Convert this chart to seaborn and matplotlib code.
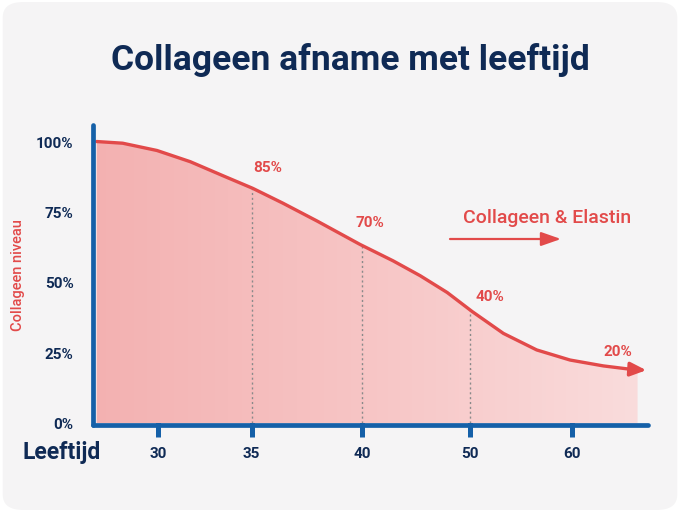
import numpy as np
import pandas as pd
import seaborn as sns
import matplotlib.pyplot as plt
from matplotlib.patches import FancyBboxPatch
from matplotlib.colors import LinearSegmentedColormap

# leeftijden op de x-as (positie = plek op de as zoals in het origineel)
leeftijd = ['30', '35', '40', '50', '60']
leeftijd_pos = [0.0, 0.9, 1.96, 3.0, 3.98]

curve_x = [-0.59, -0.34, -0.01, 0.31, 0.63, 0.91, 1.20, 1.53, 1.94, 2.26, 2.52, 2.78,
           3.02, 3.32, 3.64, 3.96, 4.28, 4.54]
curve_y = [100.5, 99.9, 97.3, 93.3, 88.2, 83.8, 78.5, 72.1, 63.8, 57.9, 52.6, 46.6,
           39.8, 32.0, 26.1, 22.5, 20.4, 19.2]

# labels bij de curve
label_pos = [0.9, 1.96, 3.0, 4.45]
label_txt = ['85%', '70%', '40%', '20%']
label_y = [91, 71.5, 45, 25.5]
label_dx = [0.15, 0.08, 0.19, -0.03]

y_ticks = [0, 25, 50, 75, 100]

navy = '#0f2a55'
blue = '#1560a8'
red = '#e24a4a'

sns.set_theme(style='white')
plt.rcParams['font.family'] = ['Roboto', 'DejaVu Sans']

fig = plt.figure(figsize=(6.8, 5.12), dpi=100)
fig.patch.set_facecolor('white')
fig.patches.append(FancyBboxPatch((0.004, 0.004), 0.992, 0.992, boxstyle='round,pad=0,rounding_size=0.03',
                                  transform=fig.transFigure, facecolor='#f5f4f5', edgecolor='none', zorder=-10))

ax = fig.add_axes([93 / 680, 87 / 512, 555 / 680, 300 / 512])
ax.set_facecolor('none')
ax.set_zorder(2)

df = pd.DataFrame({'pos': curve_x, 'niveau': curve_y})

# gradient-vulling onder de curve
x0, x1 = curve_x[0], 4.61
grad = np.linspace(0, 1, 256).reshape(1, -1)
cmap = LinearSegmentedColormap.from_list('roze', ['#f3b1b1', '#f7c5c5', '#fadcdc'])
img = ax.imshow(grad, cmap=cmap, aspect='auto', extent=[x0 - 0.05, x1, 0, 100.5], zorder=1)
fill_x = list(df['pos']) + [x1]
fill_y = list(df['niveau']) + [19]
poly = ax.fill_between(fill_x, 0, fill_y, color='none', lw=0)
img.set_clip_path(poly.get_paths()[0], transform=ax.transData)

sns.lineplot(data=df, x='pos', y='niveau', color=red, lw=2.4, ax=ax, zorder=3)
ax.lines[-1].set_solid_joinstyle('round')
ax.lines[-1].set_solid_capstyle('round')
ax.annotate('', xy=(4.72, 18.8), xytext=(4.5, 19.3),
            arrowprops=dict(arrowstyle='-|>,head_width=0.35,head_length=0.8', color=red, lw=2.4),
            annotation_clip=False, zorder=4)

# stippellijnen bij 35, 40, 50
for p in leeftijd_pos[1:4]:
    yv = np.interp(p, curve_x, curve_y)
    ax.plot([p, p], [0, yv], ls=(0, (1.5, 2)), color='#8a8a8a', lw=1, zorder=2)

for p, t, yy, dx in zip(label_pos, label_txt, label_y, label_dx):
    ax.text(p + dx, yy, t, color=red, fontsize=11, fontweight='bold', ha='center', va='center')

ax.text(2.93, 73.2, 'Collageen & Elastin', color=red, fontsize=14, fontweight='medium', ha='left', va='center')
ax.annotate('', xy=(3.9, 65.7), xytext=(2.78, 65.7),
            arrowprops=dict(arrowstyle='-|>,head_width=0.35,head_length=1.0', color=red, lw=1.6))

ax.set_xlim(-0.625, 4.71)
ax.set_ylim(-0.7, 106.4)
ax.set_xticks(leeftijd_pos)
ax.set_xticklabels(leeftijd)
ax.set_yticks(y_ticks)
ax.set_yticklabels([f'{v}%' for v in y_ticks])
ax.tick_params(axis='x', bottom=True, direction='inout', length=17, width=3.6, color=blue, pad=7,
               labelsize=11, labelcolor=navy)
ax.tick_params(axis='y', left=False, length=0, pad=14, labelsize=11, labelcolor=navy)
for lab in ax.get_xticklabels() + ax.get_yticklabels():
    lab.set_fontweight('bold')
for tl in ax.xaxis.get_ticklines():
    tl.set_solid_capstyle('round')

for s in ['top', 'right']:
    ax.spines[s].set_visible(False)
for s in ['left', 'bottom']:
    ax.spines[s].set_color(blue)
    ax.spines[s].set_linewidth(3.4)
    ax.spines[s].set_capstyle('round')
    ax.spines[s].set_zorder(5)

ax.set_xlabel('')
ax.set_ylabel('')
fig.text(22 / 680, 1 - 452 / 512, 'Leeftijd', fontsize=16.5, fontweight='bold', color=navy, ha='left', va='center')
fig.text(18 / 680, 1 - 275 / 512, 'Collageen niveau', fontsize=10.5, color=red, rotation=90,
         ha='center', va='center', fontweight='medium')
fig.text(350 / 680, 1 - 60 / 512, 'Collageen afname met leeftijd', fontsize=25.5, fontweight='bold',
         color=navy, ha='center', va='center')

fig.savefig('out.png', dpi=100, facecolor=fig.get_facecolor())
